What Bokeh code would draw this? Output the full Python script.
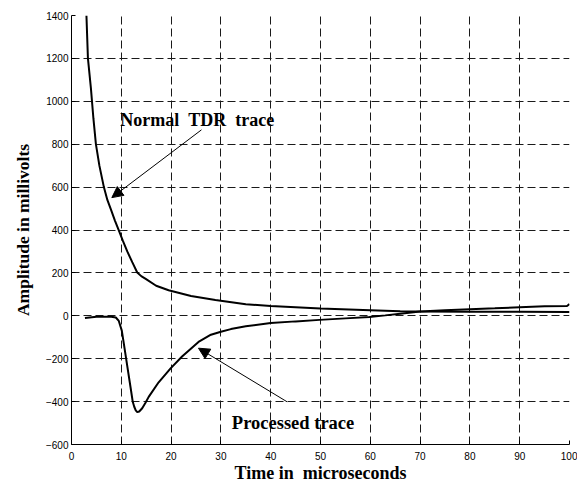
from bokeh.plotting import figure
from bokeh.models import Range1d, FixedTicker, Arrow, NormalHead, Label
from bokeh.embed import file_html
from bokeh.resources import INLINE

# Normal TDR trace (time in microseconds, amplitude in millivolts)
normal_t = [3.0, 3.3, 3.9, 4.4, 4.9, 5.6, 6.5, 7.2, 8.0, 8.7, 9.5, 10.3, 11.2, 12.2,
            13.2, 14.0, 14.9, 17.0, 19.5, 24.0, 28.9, 35.0, 40.0, 50.0, 60.0, 66.0,
            70.0, 80.0, 90.0, 100.0]
normal_mv = [1400, 1200, 1060, 920, 800, 700, 600, 540, 490, 445, 398, 350, 300, 250,
             202, 185, 172, 140, 119, 92, 74, 54, 46, 34, 26, 21,
             20, 19, 19, 18]

# Processed trace
proc_t = [2.7, 5.0, 8.0, 8.9, 9.5, 10.1, 10.5, 11.2, 11.9, 12.3, 12.6, 12.9, 13.2, 13.6,
          14.2, 14.8, 15.5, 17.5, 19.9, 22.2, 25.5, 28.0, 30.0, 32.0, 35.0, 40.0, 45.0,
          49.8, 55.0, 59.8, 63.0, 66.0, 70.0, 75.0, 80.0, 85.0, 90.0, 95.0, 99.5, 100.0]
proc_mv = [-10, -4, -4, -8, -24, -69, -129, -235, -340, -401, -424, -441, -449, -446,
           -431, -408, -378, -310, -245, -190, -122, -88, -74, -62, -49, -34, -26,
           -19, -12, -6, 2, 10, 20, 26, 31, 35, 40, 44, 46, 55]

x_ticks = list(range(0, 101, 10))
y_ticks = list(range(-600, 1401, 200))

p = figure(width=577, height=485, output_backend="svg", toolbar_location=None,
           x_range=Range1d(0, 100), y_range=Range1d(-600, 1400),
           min_border_left=71, min_border_right=8, min_border_top=15, min_border_bottom=30)
p.outline_line_color = None
p.background_fill_color = "white"
p.border_fill_color = "white"

p.xaxis.ticker = FixedTicker(ticks=x_ticks)
p.yaxis.ticker = FixedTicker(ticks=y_ticks)
for ax in (p.xaxis, p.yaxis):
    ax.minor_tick_line_color = None
    ax.major_tick_in = 4
    ax.major_tick_out = 0
    ax.major_tick_line_color = "black"
    ax.axis_line_color = "black"
    ax.axis_line_width = 1
    ax.major_label_text_font = "Liberation Sans"
    ax.major_label_text_font_size = "10px"
    ax.major_label_text_color = "black"
    ax.axis_label_text_font = "Liberation Serif"
    ax.axis_label_text_font_style = "bold"
    ax.axis_label_text_color = "black"

p.xaxis.axis_label = "Time in \u00a0microseconds"
p.xaxis.axis_label_text_font_size = "18px"
p.xaxis.axis_label_standoff = 0
p.xaxis.major_label_standoff = 7
p.yaxis.axis_label = "Amplitude in millivolts"
p.yaxis.axis_label_text_font_size = "17.5px"
p.yaxis.axis_label_standoff = 10
p.yaxis.major_label_standoff = 3

p.xgrid.ticker = FixedTicker(ticks=x_ticks)
p.ygrid.ticker = FixedTicker(ticks=y_ticks)
for g in (p.xgrid, p.ygrid):
    g.grid_line_color = "#1a1a1a"
    g.grid_line_dash = "8 4"
    g.grid_line_width = 1

p.line(normal_t, normal_mv, line_color="black", line_width=2)
p.line(proc_t, proc_mv, line_color="black", line_width=2)

p.add_layout(Arrow(end=NormalHead(size=11, fill_color="black", line_color="black"),
                   x_start=26.1, y_start=867, x_end=8.1, y_end=551,
                   line_color="black", line_width=1))
p.add_layout(Arrow(end=NormalHead(size=11, fill_color="black", line_color="black"),
                   x_start=43.3, y_start=-401, x_end=25.5, y_end=-151,
                   line_color="black", line_width=1))

p.add_layout(Label(x=9.8, y=911, text="Normal \u00a0TDR \u00a0trace", text_font="Liberation Serif",
                   text_font_style="bold", text_font_size="18px", text_color="black",
                   text_baseline="alphabetic"))
p.add_layout(Label(x=32.2, y=-499, text="Processed trace", text_font="Liberation Serif",
                   text_font_style="bold", text_font_size="18.5px", text_color="black",
                   text_baseline="alphabetic"))

open("out.html", "w").write(file_html(p, INLINE))
